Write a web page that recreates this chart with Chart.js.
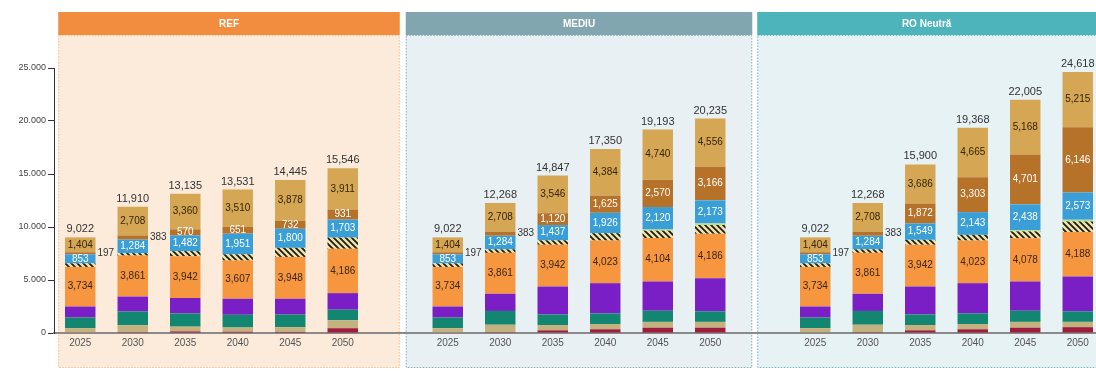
<!DOCTYPE html>
<html>
<head>
<meta charset="utf-8">
<script src="https://cdn.jsdelivr.net/npm/chart.js@4.4.1/dist/chart.umd.min.js"></script>
<style>
  html, body { margin: 0; padding: 0; background: #fff; overflow: hidden; }
  #wrap { width: 1104px; height: 371px; }
</style>
</head>
<body>
<div id="wrap"><canvas id="grafic" width="1104" height="371"></canvas></div>
<script>
// Ani si scenarii
const years = ['2025', '2030', '2035', '2040', '2045', '2050'];
const scenarios = ['REF', 'MEDIU', 'RO Neutră'];

// Valori pe serii, in ordinea: REF (6 ani) | MEDIU (6 ani) | RO Neutra (6 ani)
const maroon = [60, 80, 150, 120, 100, 450,   60, 80, 250, 350, 500, 500,   60, 80, 250, 350, 500, 550];
const khaki  = [400, 650, 450, 400, 450, 750, 400, 700, 500, 500, 550, 550, 400, 700, 500, 500, 550, 500];
const teal   = [1000, 1300, 1250, 1200, 1200, 1000, 1000, 1300, 1000, 1000, 1050, 1000, 1000, 1300, 1000, 1000, 1050, 1000];
const purple = [1040, 1410, 1450, 1510, 1480, 1560, 1040, 1620, 2635, 2850, 2760, 3125, 1040, 1620, 2635, 2850, 2760, 3280];
const orange = [3734, 3861, 3942, 3607, 3948, 4186, 3734, 3861, 3942, 4023, 4104, 4186, 3734, 3861, 3942, 4023, 4078, 4188];
const hatched = [334, 234, 481, 582, 857, 1055, 334, 332, 417, 692, 690, 830, 334, 332, 466, 534, 650, 1000];
const green  = [0, 0, 0, 0, 0, 0,             0, 0, 0, 0, 109, 149,          0, 0, 0, 0, 110, 166];
const blue   = [853, 1284, 1482, 1951, 1800, 1703, 853, 1284, 1437, 1926, 2120, 2173, 853, 1284, 1549, 2143, 2438, 2573];
const brown  = [197, 383, 570, 651, 732, 931, 197, 383, 1120, 1625, 2570, 3166, 197, 383, 1872, 3303, 4701, 6146];
const tan    = [1404, 2708, 3360, 3510, 3878, 3911, 1404, 2708, 3546, 4384, 4740, 4556, 1404, 2708, 3686, 4665, 5168, 5215];
const totals = [9022, 11910, 13135, 13531, 14445, 15546, 9022, 12268, 14847, 17350, 19193, 20235, 9022, 12268, 15900, 19368, 22005, 24618];

const yTicks = [0, 5000, 10000, 15000, 20000, 25000];

// un slot gol intre scenarii
const withGaps = arr => [...arr.slice(0, 6), null, ...arr.slice(6, 12), null, ...arr.slice(12, 18)];
const labels = withGaps([...years, ...years, ...years].map(String));

const panelStyle = [
    { fill: '#fcebdb', border: '#efc59c', head: '#f28d3f' },
    { fill: '#e9f0f3', border: '#8fb1ba', head: '#82a6b0' },
    { fill: '#e7f2f4', border: '#74c0c6', head: '#4db4bc' }
];

function hatchPattern() {
    const p = document.createElement('canvas');
    p.width = 6; p.height = 6;
    const g = p.getContext('2d');
    g.fillStyle = '#f2e4a4';
    g.fillRect(0, 0, 6, 6);
    g.strokeStyle = '#1b1b1b';
    g.lineWidth = 1.8;
    g.beginPath();
    g.moveTo(-1, -1); g.lineTo(7, 7);
    g.moveTo(-4, 2); g.lineTo(4, 10);
    g.moveTo(2, -4); g.lineTo(10, 4);
    g.stroke();
    return g.createPattern(p, 'repeat');
}

const FONT = '"Liberation Sans", Arial, sans-serif';
const fmt = v => v.toLocaleString('en-US');

const series = [
    { key: 'maroon', data: maroon, color: '#9e1c3c' },
    { key: 'khaki', data: khaki, color: '#c4b27e' },
    { key: 'teal', data: teal, color: '#138672' },
    { key: 'purple', data: purple, color: '#7a1fc6' },
    { key: 'orange', data: orange, color: '#f6963f', label: '#3a2612' },
    { key: 'hatched', data: hatched, color: hatchPattern() },
    { key: 'green', data: green, color: '#b6e08c' },
    { key: 'blue', data: blue, color: '#3a9fd6', label: '#ffffff' },
    { key: 'brown', data: brown, color: '#b7722a', label: '#ffffff', outside: 500 },
    { key: 'tan', data: tan, color: '#d5a653', label: '#35250a' }
];

// fundaluri si titluri de panou
const panelsPlugin = {
    id: 'panels',
    beforeDraw(chart) {
        const { ctx } = chart;
        const meta = chart.getDatasetMeta(0);
        const edges = [
            [meta.data[0].x - 22, meta.data[5].x + 57],
            [meta.data[7].x - 42, meta.data[12].x + 42],
            [meta.data[14].x - 58, chart.width]
        ];
        ctx.save();
        edges.forEach(([l, r], i) => {
            const st = panelStyle[i];
            ctx.fillStyle = st.fill;
            ctx.fillRect(l, 12, r - l, 356);
            ctx.strokeStyle = st.border;
            ctx.lineWidth = 1;
            ctx.setLineDash([1.5, 1.5]);
            ctx.strokeRect(l + 0.5, 35.5, r - l - 1, 332);
            ctx.setLineDash([]);
            ctx.fillStyle = st.head;
            ctx.fillRect(l, 12, r - l, 23);
            ctx.fillStyle = '#ffffff';
            ctx.font = 'bold 10px ' + FONT;
            ctx.textAlign = 'center';
            ctx.textBaseline = 'middle';
            ctx.fillText(scenarios[i], (l + Math.min(r, 1096)) / 2, 24);
        });
        ctx.restore();
    }
};

// etichete de valori
const labelsPlugin = {
    id: 'valori',
    afterDatasetsDraw(chart) {
        const { ctx } = chart;
        ctx.save();
        ctx.textAlign = 'center';
        ctx.textBaseline = 'middle';
        chart.data.datasets.forEach((ds, di) => {
            const s = series[di];
            if (!s.label) return;
            chart.getDatasetMeta(di).data.forEach((bar, i) => {
                const v = ds.data[i];
                if (v == null || !v) return;
                const cy = (bar.y + bar.base) / 2;
                ctx.font = '10px ' + FONT;
                if (s.outside && v < s.outside) {
                    ctx.fillStyle = '#333333';
                    ctx.textAlign = 'left';
                    ctx.fillText(fmt(v), bar.x + bar.width / 2 + 2, cy);
                    ctx.textAlign = 'center';
                } else {
                    ctx.fillStyle = s.label;
                    ctx.fillText(fmt(v), bar.x, cy);
                }
            });
        });
        // totaluri deasupra coloanelor
        const top = chart.getDatasetMeta(series.length - 1).data;
        const tot = withGaps(totals);
        ctx.font = '11px ' + FONT;
        ctx.fillStyle = '#333333';
        top.forEach((bar, i) => {
            if (tot[i] == null) return;
            ctx.fillText(fmt(tot[i]), bar.x, bar.y - 8);
        });
        ctx.restore();
    }
};

new Chart(document.getElementById('grafic'), {
    type: 'bar',
    data: {
        labels,
        datasets: series.map(s => ({
            label: s.key,
            data: withGaps(s.data),
            backgroundColor: s.color,
            borderWidth: 0,
            categoryPercentage: 1,
            barPercentage: 0.58
        }))
    },
    options: {
        responsive: false,
        animation: false,
        devicePixelRatio: 1,
        layout: { padding: { top: 68, left: 0, right: 0, bottom: 0 } },
        plugins: { legend: { display: false }, tooltip: { enabled: false } },
        scales: {
            x: {
                stacked: true,
                grid: { display: false },
                border: { color: '#8a8a8a', width: 2 },
                ticks: { color: '#555555', font: { family: FONT, size: 10 }, padding: -4, maxRotation: 0, autoSkip: false },
                afterFit: s => { s.height = 38; }
            },
            y: {
                stacked: true,
                min: 0,
                max: 25000,
                afterBuildTicks: s => { s.ticks = yTicks.map(v => ({ value: v })); },
                grid: { drawOnChartArea: false, tickLength: 6, color: '#333333' },
                border: { color: '#333333', width: 1 },
                ticks: {
                    color: '#444444',
                    padding: 2,
                    font: { family: FONT, size: 9 },
                    callback: v => v.toLocaleString('de-DE')
                },
                afterFit: s => { s.width = 54; }
            }
        }
    },
    plugins: [panelsPlugin, labelsPlugin]
});
</script>
</body>
</html>
